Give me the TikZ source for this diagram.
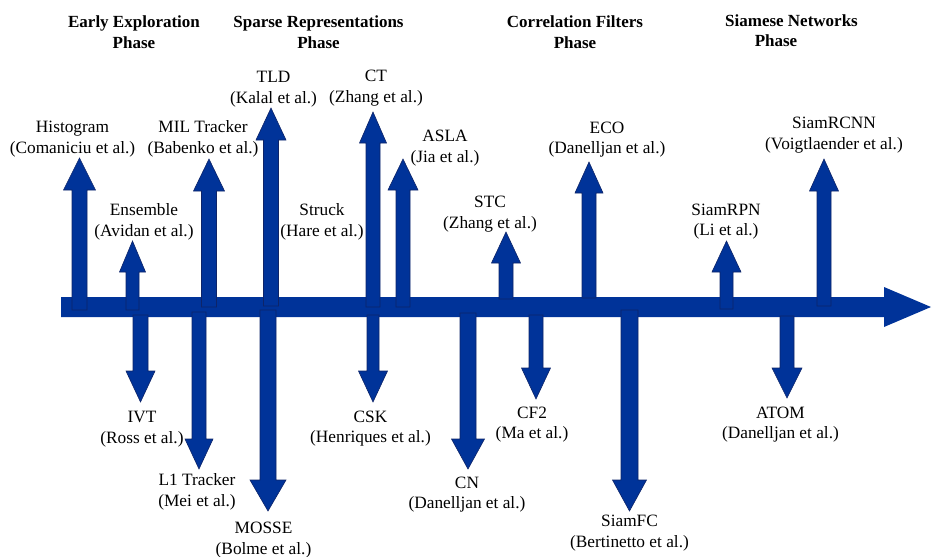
\documentclass[tikz,border=0pt]{standalone}
\usepackage{fontspec}
\setmainfont{Liberation Serif}
\newfontfamily\tlserif{Liberation Serif}
\definecolor{tlblue}{RGB}{0,51,153}
\definecolor{tledge}{RGB}{14,36,104}
% #1 centre x, #2 foot y, #3 tip y, #4 head base y, #5 shaft half width, #6 head half width
\newcommand{\TLSpike}[6]{%
  \filldraw[spike] ({#1-#5},#2) -- ({#1-#5},#4) -- ({#1-#6},#4) -- (#1,#3)
    -- ({#1+#6},#4) -- ({#1+#5},#4) -- ({#1+#5},#2) -- cycle;}
\begin{document}
\begin{tikzpicture}[x=1pt,y=-1pt,
  spike/.style={fill=tlblue,draw=tledge,line width=0.6pt,line join=miter},
  lbl/.style={align=center,inner sep=0pt,font=\tlserif\fontsize{17.3}{20.7}\selectfont},
  phase/.style={align=center,inner sep=0pt,font=\tlserif\fontsize{17}{20.5}\selectfont\bfseries}]
\useasboundingbox (0,0) rectangle (932,557);

% main time axis
\fill[tlblue] (61,297) -- (884,297) -- (884,287) -- (931,307) -- (884,327) -- (884,317) -- (61,317) -- cycle;

% upward spikes
\TLSpike{79.5}{310}{158}{190}{7.5}{16}
\TLSpike{132.5}{310}{241}{272}{6.5}{13}
\TLSpike{209}{307}{159}{191}{7.5}{15.5}
\TLSpike{271}{306}{108}{140}{7.5}{15}
\TLSpike{373}{307}{112}{143}{7}{13.5}
\TLSpike{403}{307}{159}{190}{7}{15}
\TLSpike{506}{299}{232}{263}{7}{14.5}
\TLSpike{589}{298}{162}{193}{7}{14}
\TLSpike{726.5}{309}{241}{272}{6.5}{14.5}
\TLSpike{824}{306}{159}{191}{7}{14.5}

% downward spikes
\TLSpike{140.5}{315}{402}{371}{7.5}{14.5}
\TLSpike{199}{312}{469}{439}{7}{14}
\TLSpike{268}{310}{511}{480}{8}{18}
\TLSpike{373}{315}{402}{371}{6}{14.5}
\TLSpike{468}{313}{469}{439}{8}{16.5}
\TLSpike{536}{315}{399}{368}{7}{14.5}
\TLSpike{629.5}{310}{511}{480}{8.5}{17}
\TLSpike{787}{316}{398}{368}{7}{15}

% phase headings
\node[phase] (early) at (134,32) {Early Exploration\\Phase};
\node[phase] (sparse) at (318.5,32) {Sparse Representations\\Phase};
\node[phase] (corr) at (575,32) {Correlation Filters\\Phase};
\node[phase] (siam1) at (791.5,21) {Siamese Networks};
\node[phase] (siam2) at (776,41) {Phase};

% labels above
\node[lbl] (histogram) at (72.5,139) {Histogram\\(Comaniciu et al.)};
\node[lbl] (ensemble) at (144,222) {Ensemble\\(Avidan et al.)};
\node[lbl] (mil) at (203,139) {MIL Tracker\\(Babenko et al.)};
\node[lbl] (tld) at (273.5,89) {TLD\\(Kalal et al.)};
\node[lbl] (ct) at (376,88) {CT\\(Zhang et al.)};
\node[lbl] (struck) at (322,222) {Struck\\(Hare et al.)};
\node[lbl] (asla) at (445,148) {ASLA\\(Jia et al.)};
\node[lbl] (stc) at (490,214) {STC\\(Zhang et al.)};
\node[lbl] (eco) at (607,139.5) {ECO\\(Danelljan et al.)};
\node[lbl] (siamrpn) at (726,221.5) {SiamRPN\\(Li et al.)};
\node[lbl] (siamrcnn) at (834,135) {SiamRCNN\\(Voigtlaender et al.)};

% labels below
\node[lbl] (ivt) at (142,429) {IVT\\(Ross et al.)};
\node[lbl] (l1) at (197,492) {L1 Tracker\\(Mei et al.)};
\node[lbl] (mosse) at (263.5,540) {MOSSE\\(Bolme et al.)};
\node[lbl] (csk) at (370.5,428.5) {CSK\\(Henriques et al.)};
\node[lbl] (cn) at (467,494.5) {CN\\(Danelljan et al.)};
\node[lbl] (cf2) at (532,424.5) {CF2\\(Ma et al.)};
\node[lbl] (siamfc) at (629.5,533) {SiamFC\\(Bertinetto et al.)};
\node[lbl] (atom) at (780.5,424.5) {ATOM\\(Danelljan et al.)};
\end{tikzpicture}
\end{document}
